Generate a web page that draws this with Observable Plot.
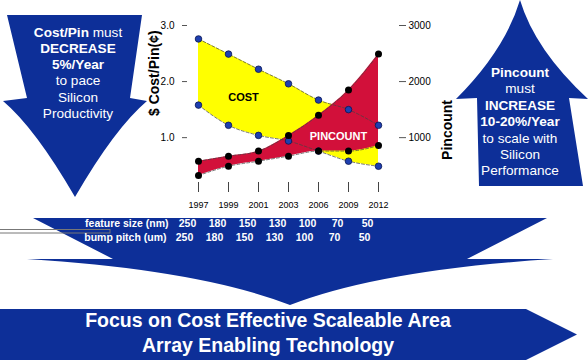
<!DOCTYPE html>
<html>
<head>
<meta charset="utf-8">
<script src="https://cdn.jsdelivr.net/npm/d3@7"></script>
<script src="https://cdn.jsdelivr.net/npm/@observablehq/plot@0.6"></script>
<style>
  html, body { margin: 0; padding: 0; background: #fff; }
  #wrap { position: relative; width: 588px; height: 360px; overflow: hidden; font-family: "Liberation Sans", Arial, sans-serif; }
  #wrap svg { position: absolute; left: 0; top: 0; }
</style>
</head>
<body>
<div id="wrap"></div>
<script>
// ---- data ----
const years = ["1997", "1999", "2001", "2003", "2006", "2009", "2012"];
const costHigh = [2.76, 2.49, 2.22, 1.96, 1.67, 1.50, 1.22];   // ¢ per pin, upper
const costLow  = [1.58, 1.22, 1.04, 0.94, 0.76, 0.58, 0.49];   // ¢ per pin, lower
const pinHigh  = [580, 670, 760, 1040, 1400, 1850, 2490];      // pins, upper
const pinLow   = [325, 490, 580, 670, 760, 760, 860];          // pins, lower
const featureSize = [250, 180, 150, 130, 100, 70, 50];         // nm
const bumpPitch   = [250, 180, 150, 130, 100, 70, 50];         // um
const costTicks = [1, 2, 3];
const pinTicks = [1000, 2000, 3000];
const leftTitle = "$ Cost/Pin(¢)";
const rightTitle = "Pincount";
const leftArrowLines = [[["Cost/Pin", true], [" must", false]], [["DECREASE", true]], [["5%/Year", true]], [["to pace", false]], [["Silicon", false]], [["Productivity", false]]];
const rightArrowLines = [[["Pincount", true]], [["must", false]], [["INCREASE", true]], [["10-20%/Year", true]], [["to scale with", false]], [["Silicon", false]], [["Performance", false]]];
const bannerLines = ["Focus on Cost Effective Scaleable Area", "Array Enabling Technology"];
const tableLabels = ["feature size (nm)", "bump pitch (um)"];

const rows = years.map((year, i) => ({
  year, costHigh: costHigh[i], costLow: costLow[i],
  pinHigh: pinHigh[i], pinLow: pinLow[i],
  feature: featureSize[i], bump: bumpPitch[i]
}));

const BLUE = "#0d2f98";
const wrap = d3.select("#wrap");

// ---- background graphic (arrows) ----
const bg = wrap.append("svg").attr("width", 588).attr("height", 360);
bg.append("path").attr("fill", BLUE)
  .attr("d", "M7,15 L142,15 L130,98 L147,101 Q115,128 75,197 Q35,128 3,101 L27,98 Z");
bg.append("path").attr("fill", BLUE)
  .attr("d", "M520,0 Q505,50 456,99 L477,98 L479,186 L583,186 L569,98 L588,99 Q535,50 520,0 Z");
bg.append("path").attr("fill", BLUE)
  .attr("d", "M33,218 L547,218 L467,259 L553,259 Q380,270 290,305 Q200,270 27,259 L113,259 Z");
bg.append("path").attr("fill", BLUE)
  .attr("d", "M0,309 L526,309 L577,334.5 L526,360 L0,360 Z");
bg.append("rect").attr("x", -1).attr("y", 229.5).attr("width", 111).attr("height", 3.5)
  .attr("fill", "none").attr("stroke", "#777").attr("stroke-width", 1);

function arrowText(lines, cx, y0, step) {
  lines.forEach((segs, i) => {
    const t = bg.append("text").attr("x", cx).attr("y", y0 + i * step)
      .attr("text-anchor", "middle").attr("fill", "#fff")
      .attr("font-family", '"Liberation Sans", Arial, sans-serif').attr("font-size", 13.6);
    segs.forEach(([s, b]) => t.append("tspan").text(s).attr("font-weight", b ? "bold" : "normal"));
  });
}
arrowText(leftArrowLines, 78, 36.5, 16.3);
arrowText(rightArrowLines, 520, 77, 16.4);
bannerLines.forEach((s, i) => {
  bg.append("text").attr("x", 268).attr("y", 327 + i * 25).attr("text-anchor", "middle")
    .attr("fill", "#fff").attr("font-weight", "bold").attr("font-size", 19.5)
    .attr("font-family", '"Liberation Sans", Arial, sans-serif').text(s);
});

// ---- chart ----
const dashed = {stroke: "#444", strokeWidth: 0.7, strokeDasharray: "3,2", curve: "monotone-x"};
const tableText = {frameAnchor: "bottom", lineAnchor: "middle", fill: "#fff", fontWeight: "bold", fontSize: 10.5};
const chart = Plot.plot({
  width: 588, height: 360,
  marginTop: 25, marginBottom: 178, marginLeft: 187, marginRight: 190,
  x: {type: "point", domain: years, padding: 0, insetLeft: 11, insetRight: 20},
  y: {domain: [0.2, 3]},
  style: {fontFamily: '"Liberation Sans", Arial, sans-serif', background: "transparent", overflow: "visible"},
  marks: [
    Plot.areaY(rows, {x: "year", y1: "costLow", y2: "costHigh", fill: "#ffff00", curve: "monotone-x"}),
    Plot.areaY(rows, {x: "year", y1: d => d.pinLow / 1000, y2: d => d.pinHigh / 1000, fill: "#d2103a", curve: "monotone-x"}),
    Plot.lineY(rows, {x: "year", y: "costHigh", ...dashed}),
    Plot.lineY(rows, {x: "year", y: "costLow", ...dashed}),
    Plot.lineY(rows, {x: "year", y: d => d.pinHigh / 1000, ...dashed}),
    Plot.lineY(rows, {x: "year", y: d => d.pinLow / 1000, ...dashed}),
    Plot.dot(rows, {x: "year", y: "costHigh", r: 3.3, fill: "#1e3fb0", stroke: "#0a1550", strokeWidth: 0.8}),
    Plot.dot(rows, {x: "year", y: "costLow", r: 3.3, fill: "#1e3fb0", stroke: "#0a1550", strokeWidth: 0.8}),
    Plot.dot(rows, {x: "year", y: d => d.pinHigh / 1000, r: 3.5, fill: "#000"}),
    Plot.dot(rows, {x: "year", y: d => d.pinLow / 1000, r: 3.5, fill: "#000"}),
    Plot.text(["COST"], {x: () => "1999", y: () => 1.71, dx: 15, text: d => d, fontWeight: "bold", fontSize: 11, fill: "#000"}),
    Plot.text(["PINCOUNT"], {x: () => "2006", y: () => 1.02, dx: 20, text: d => d, fontWeight: "bold", fontSize: 11, fill: "#fff"}),
    Plot.axisY(costTicks, {anchor: "left", tickSize: 5, tickPadding: 8, tickFormat: d => d.toFixed(1), fontSize: 10, stroke: "#555", fill: "#000", label: null}),
    Plot.axisY(pinTicks.map(p => p / 1000), {anchor: "right", tickSize: 7, tickPadding: 3, tickFormat: d => String(Math.round(d * 1000)), fontSize: 10, stroke: "#555", fill: "#000", label: null}),
    Plot.axisX(years, {anchor: "bottom", tickSize: 10, tickPadding: 9, fontSize: 9, stroke: "#444", fill: "#000", label: null}),
    Plot.text([leftTitle], {frameAnchor: "left", dx: -33, dy: 12, rotate: -90, text: d => d, fontWeight: "bold", fontSize: 14, fill: "#000"}),
    Plot.text([rightTitle], {frameAnchor: "right", dx: 49, dy: -4, rotate: -90, text: d => d, fontWeight: "bold", fontSize: 14, fill: "#000"}),
    Plot.text(rows, {x: "year", text: "feature", dy: 41.3, dx: -11, ...tableText}),
    Plot.text(rows, {x: "year", text: "bump", dy: 55.3, dx: -14, ...tableText}),
    Plot.text([tableLabels[0]], {x: () => "1997", text: d => d, dy: 41.3, dx: -30, textAnchor: "end", ...tableText}),
    Plot.text([tableLabels[1]], {x: () => "1997", text: d => d, dy: 55.3, dx: -32, textAnchor: "end", ...tableText})
  ]
});
wrap.node().appendChild(chart);
</script>
</body>
</html>
